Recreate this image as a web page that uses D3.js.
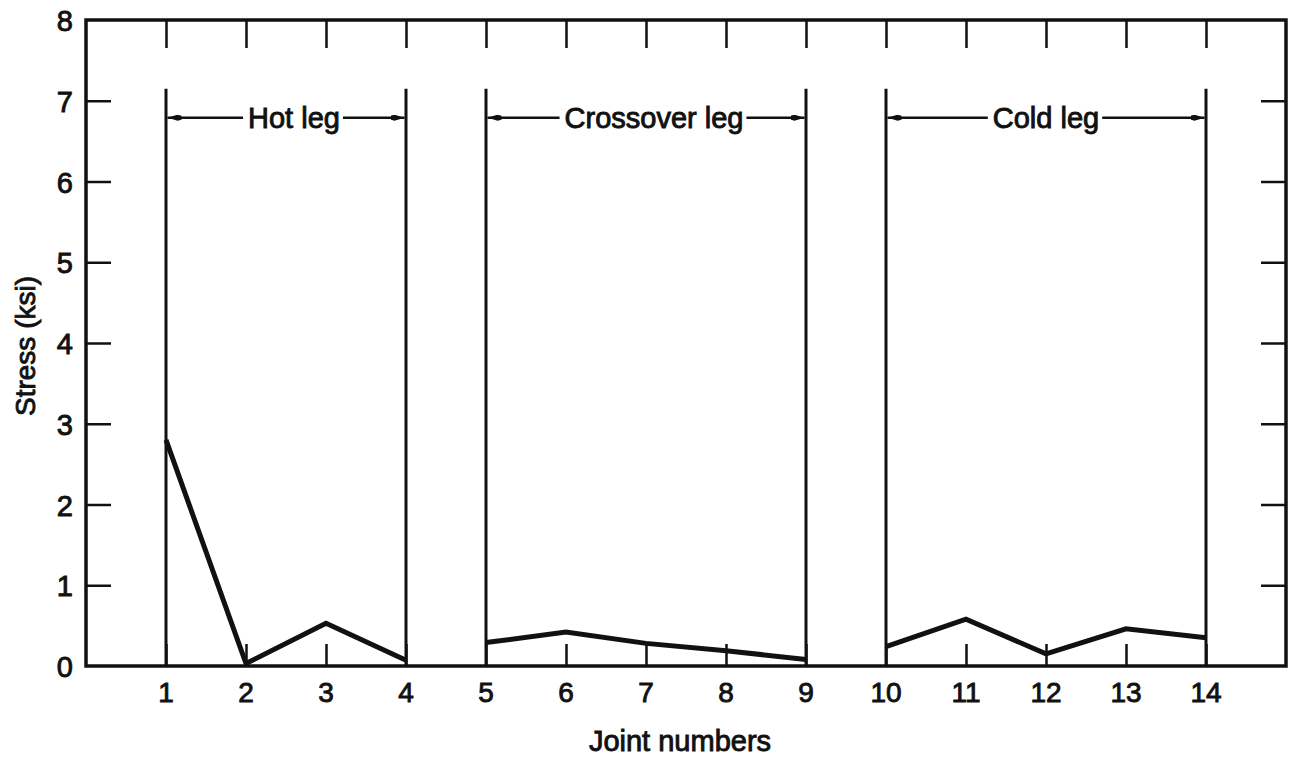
<!DOCTYPE html>
<html>
<head>
<meta charset="utf-8">
<script src="https://cdn.jsdelivr.net/npm/d3@7/dist/d3.min.js"></script>
<style>
  html, body { margin: 0; padding: 0; background: #fff; }
  svg { display: block; }
  text { font-family: "Liberation Sans", Arial, Helvetica, sans-serif; fill: #111; stroke: #111; stroke-width: 0.9px; }
</style>
</head>
<body>
<svg id="chart" width="1292" height="759"></svg>
<script>
// ---- data ----
const joints = [1, 2, 3, 4, 5, 6, 7, 8, 9, 10, 11, 12, 13, 14];
const hotLeg = [2.8, 0.03, 0.53, 0.07];                 // joints 1-4
const crossoverLeg = [0.29, 0.42, 0.28, 0.19, 0.08];    // joints 5-9
const coldLeg = [0.24, 0.58, 0.15, 0.46, 0.35];         // joints 10-14
const legNames = ["Hot leg", "Crossover leg", "Cold leg"];
const legStarts = [1, 5, 10];
const legEnds = [4, 9, 14];
const legLabelCenters = [2.6, 7.1, 12.0];
const legTop = 7.15;
const legArrowLevel = 6.79;
const yTicks = [0, 1, 2, 3, 4, 5, 6, 7, 8];
const xLabel = "Joint numbers";
const yLabel = "Stress (ksi)";

(function draw() {
  const svg = d3.select("#chart");
  const mLeft = 86, mRight = 1286, mTop = 20, mBottom = 666;
  const x = d3.scaleLinear().domain([0, 15]).range([mLeft, mRight]);
  const y = d3.scaleLinear().domain([0, 8]).range([mBottom, mTop]);
  const ink = "#111";

  // frame
  svg.append("rect")
    .attr("x", mLeft).attr("y", mTop)
    .attr("width", mRight - mLeft).attr("height", mBottom - mTop)
    .attr("fill", "none").attr("stroke", ink).attr("stroke-width", 3.5);

  // left axis ticks (inward) and labels
  const inner = yTicks.filter(d => d > 0 && d < 8);
  const gL = svg.append("g").attr("transform", `translate(${mLeft},0)`)
    .call(d3.axisRight(y).tickValues(inner).tickSize(25).tickFormat(""));
  gL.select(".domain").remove();
  gL.selectAll(".tick line").attr("stroke", ink).attr("stroke-width", 2.5);
  yTicks.forEach(v => {
    svg.append("text").attr("x", mLeft - 13).attr("y", y(v) + 1)
      .attr("text-anchor", "end").attr("dominant-baseline", "central")
      .style("font-size", "29px").text(v);
  });

  // right axis ticks (inward)
  const gR = svg.append("g").attr("transform", `translate(${mRight},0)`)
    .call(d3.axisLeft(y).tickValues(inner).tickSize(25).tickFormat(""));
  gR.select(".domain").remove();
  gR.selectAll(".tick line").attr("stroke", ink).attr("stroke-width", 2.5);

  // top ticks (inward, every joint)
  const gT = svg.append("g").attr("transform", `translate(0,${mTop})`)
    .call(d3.axisBottom(x).tickValues(joints).tickSize(28).tickFormat(""));
  gT.select(".domain").remove();
  gT.selectAll(".tick line").attr("stroke", ink).attr("stroke-width", 2.5);

  // bottom ticks (inward) + labels
  const gB = svg.append("g").attr("transform", `translate(0,${mBottom})`)
    .call(d3.axisTop(x).tickValues(joints).tickSize(22).tickFormat(""));
  gB.select(".domain").remove();
  gB.selectAll(".tick line").attr("stroke", ink).attr("stroke-width", 2.5);
  joints.forEach(j => {
    svg.append("text").attr("x", x(j)).attr("y", mBottom + 26)
      .attr("text-anchor", "middle").attr("dominant-baseline", "central")
      .style("font-size", "28px").text(j);
  });

  // axis titles
  svg.append("text").attr("x", (mLeft + mRight) / 2 - 6).attr("y", 741)
    .attr("text-anchor", "middle").attr("dominant-baseline", "central")
    .style("font-size", "29px").text(xLabel);
  svg.append("text")
    .attr("transform", `translate(25,346) rotate(-90)`)
    .attr("text-anchor", "middle").attr("dominant-baseline", "central")
    .style("font-size", "28px").text(yLabel);

  // arrow marker
  svg.append("defs").append("marker").attr("id", "arrow")
    .attr("viewBox", "0 0 14 6").attr("refX", 14).attr("refY", 3)
    .attr("markerWidth", 14).attr("markerHeight", 6)
    .attr("markerUnits", "userSpaceOnUse").attr("orient", "auto")
    .append("path").attr("d", "M0,1 L4,0 L14,3 L4,6 L0,5 Z").attr("fill", ink);

  // leg dividers and labels
  legNames.forEach((name, i) => {
    [legStarts[i], legEnds[i]].forEach(j => {
      svg.append("line")
        .attr("x1", x(j)).attr("x2", x(j))
        .attr("y1", y(legTop)).attr("y2", mBottom)
        .attr("stroke", ink).attr("stroke-width", 3);
    });
    const t = svg.append("text").attr("x", x(legLabelCenters[i])).attr("y", y(legArrowLevel))
      .attr("text-anchor", "middle").attr("dominant-baseline", "central")
      .style("font-size", "29px").text(name);
    const bb = t.node().getBBox();
    svg.append("line")
      .attr("x1", bb.x - 5).attr("x2", x(legStarts[i]) + 1.5)
      .attr("y1", y(legArrowLevel)).attr("y2", y(legArrowLevel))
      .attr("stroke", ink).attr("stroke-width", 2.4).attr("marker-end", "url(#arrow)");
    svg.append("line")
      .attr("x1", bb.x + bb.width + 3).attr("x2", x(legEnds[i]) - 1.5)
      .attr("y1", y(legArrowLevel)).attr("y2", y(legArrowLevel))
      .attr("stroke", ink).attr("stroke-width", 2.4).attr("marker-end", "url(#arrow)");
  });

  // data lines
  const line = d3.line().x(d => x(d[0])).y(d => y(d[1]));
  [hotLeg, crossoverLeg, coldLeg].forEach((vals, i) => {
    const pts = vals.map((v, k) => [legStarts[i] + k, v]);
    svg.append("path").attr("d", line(pts))
      .attr("fill", "none").attr("stroke", ink).attr("stroke-width", 5)
      .attr("stroke-linejoin", "miter");
  });
})();
</script>
</body>
</html>
